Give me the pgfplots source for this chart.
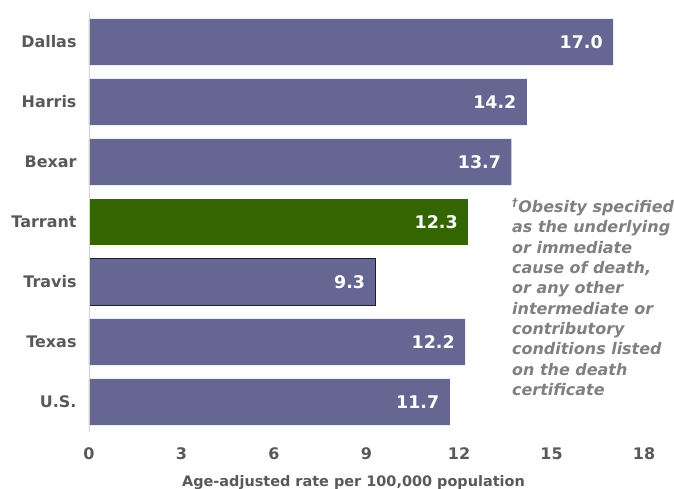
\documentclass[border=0pt]{standalone}
\usepackage{pgfplots}
\pgfplotsset{compat=1.18}
\usepackage{fontspec}
\setmainfont{DejaVu Sans}
\definecolor{barpurple}{RGB}{102,102,146}
\definecolor{bargreen}{RGB}{51,102,0}
\definecolor{labgray}{RGB}{89,89,89}
\definecolor{notegray}{RGB}{128,128,128}
\begin{document}
\begin{tikzpicture}[x=1bp,y=1bp]
\useasboundingbox (-89bp,-57bp) rectangle (585bp,432bp);
\begin{axis}[
  at={(0,0)}, anchor=south west,
  scale only axis, width=555bp, height=420bp,
  xmin=0, xmax=18, ymin=-0.5, ymax=6.5,
  xtick={0,3,...,18},
  ytick={0,...,6},
  yticklabels={U.S.,Texas,Travis,Tarrant,Bexar,Harris,Dallas},
  axis line style={draw=none},
  major tick length=0pt,
  /pgf/number format/assume math mode=true,
  ticklabel style={font=\fontsize{16}{18}\selectfont\bfseries, text=labgray},
  xticklabel style={yshift=-12bp},
  yticklabel style={xshift=-9bp},
  xlabel={Age-adjusted rate per 100,000 population},
  xlabel style={font=\fontsize{14.5}{16}\selectfont\bfseries, text=labgray, yshift=-9bp, xshift=-13bp},
  xbar, bar width=0.77, bar shift=0pt,
  point meta=x,
  nodes near coords={\pgfmathprintnumber[fixed,fixed zerofill,precision=1]{\pgfplotspointmeta}},
  nodes near coords style={anchor=east, xshift=-7bp, text=white, font=\fontsize{17.5}{19}\selectfont\bfseries},
  clip=false,
]
\addplot[fill=barpurple, draw=none] coordinates {(17.0,6) (14.2,5) (13.7,4) (12.2,1) (11.7,0)};
\addplot[fill=bargreen, draw=none] coordinates {(12.3,3)};
\addplot[fill=barpurple, draw=black!70!barpurple, line width=0.8bp] coordinates {(9.3,2)};
\draw[gray!35, line width=0.8bp] (axis cs:0,-0.5) -- (axis cs:0,6.5);
\node[anchor=north west, align=left, text=notegray, font=\fontsize{16}{20.4}\selectfont\bfseries\itshape, inner sep=0pt]
  at (axis cs:13.72,3.4) {\textsuperscript{\dag}Obesity specified\\as the underlying\\or immediate\\cause of death,\\or any other\\intermediate or\\contributory\\conditions listed\\on the death\\certificate};
\end{axis}
\end{tikzpicture}
\end{document}
